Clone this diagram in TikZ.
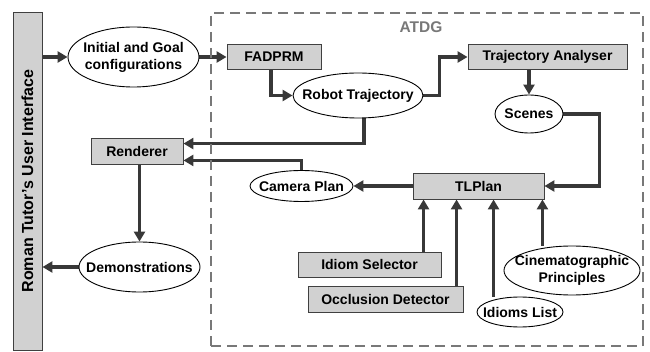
\documentclass[tikz,border=0pt]{standalone}
\usepackage{fontspec}
\setmainfont{Liberation Sans}
\usetikzlibrary{arrows.meta,shapes.geometric,backgrounds}
\definecolor{boxgray}{gray}{0.82}
\definecolor{arrgray}{gray}{0.22}
\definecolor{dashgray}{gray}{0.47}
\begin{document}
\begin{tikzpicture}[x=1pt,y=-1pt,
  box/.style={draw=black!75, line width=0.9pt, fill=boxgray, inner sep=0pt,
    font=\fontsize{14}{16}\selectfont\bfseries},
  ell/.style={draw=black, line width=0.9pt, fill=white, ellipse, inner sep=0pt},
  lbl/.style={font=\fontsize{14}{17}\selectfont\bfseries, align=center, inner sep=0pt},
  arr/.style={draw=arrgray, line width=3.5pt, -{Triangle[length=10pt,width=11pt]}}]
\useasboundingbox (0,0) rectangle (650,352);
% ATDG frame
\node[draw=dashgray, line width=2.3pt, dash pattern=on 10pt off 6pt, minimum width=432, minimum height=333, inner sep=0pt] (atdg) at (427,179.5) {};
\node[font=\fontsize{15.5}{17}\selectfont\bfseries, text=dashgray, inner sep=0pt] (atdglbl) at (421,27) {ATDG};
% user interface bar
\node[box, minimum width=29, minimum height=338] (ui) at (27.5,181) {};
\node[lbl, font=\fontsize{16}{18}\selectfont\bfseries, rotate=90] (uitext) at (ui) {Roman Tutor's User Interface};
% nodes
\node[ell, minimum width=131, minimum height=60, label={[lbl]center:Initial and Goal\\configurations}] (init) at (133.5,57) {};
\node[box, minimum width=94, minimum height=25] (fad) at (274,57) {FADPRM};
\node[ell, minimum width=130, minimum height=45, label={[lbl]center:Robot Trajectory}] (robot) at (358,95.5) {};
\node[box, minimum width=159, minimum height=25] (ta) at (547.5,57) {Trajectory Analyser};
\node[ell, minimum width=68, minimum height=38, label={[lbl]center:Scenes}] (scenes) at (529,114) {};
\node[box, minimum width=92, minimum height=26] (renderer) at (137,151) {Renderer};
\node[ell, minimum width=103, minimum height=31, label={[lbl]center:Camera Plan}] (camera) at (301.5,186) {};
\node[box, minimum width=131, minimum height=26] (tl) at (478.5,186) {TLPlan};
\node[ell, minimum width=121, minimum height=50, label={[lbl]center:Demonstrations}] (demo) at (139.5,267) {};
\node[box, minimum width=143, minimum height=25] (idsel) at (369.5,264.5) {Idiom Selector};
\node[box, minimum width=155, minimum height=26] (occ) at (385.5,299) {Occlusion Detector};
\node[ell, minimum width=86, minimum height=30, label={[lbl]center:Idioms List}] (idl) at (520,312) {};
\node[ell, minimum width=136, minimum height=49, label={[lbl]center:Cinematographic\\Principles}] (cine) at (572,270.5) {};
% connectors
\begin{scope}[on background layer]
\draw[arr] (init.west -| ui.east) -- (init.west);
\draw[arr] (init.east) -- (fad.west);
\draw[arr] ([xshift=-3pt]fad.south) |- (robot.west);
\draw[arr] (robot.east) -- ++(16,0) |- (ta.west);
\draw[arr] (scenes.north |- ta.south) -- (scenes.north);
\draw[arr] (scenes.east) -- ++(36,0) |- (tl.east);
\draw[arr] ([xshift=6pt]robot.south) |- ([yshift=-6pt]renderer.north east);
\draw[arr] (camera.north) |- ([yshift=4pt]renderer.south east);
\draw[arr] (tl.west) -- (camera.east);
\draw[arr] (demo.north |- renderer.south) -- (demo.north);
\draw[arr] (demo.west) -- (demo.west -| ui.east);
\draw[arr] ([xshift=11pt]tl.south west |- idsel.north) -- ([xshift=11pt]tl.south west);
\draw[arr] ([xshift=44pt]tl.south west |- occ.north) -- ([xshift=44pt]tl.south west);
\draw[arr] ([xshift=81pt]tl.south west |- idl.north) -- ([xshift=81pt]tl.south west);
\draw[arr] ([xshift=-2pt]tl.south east |- cine.north) -- ([xshift=-2pt]tl.south east);
\end{scope}
\end{tikzpicture}
\end{document}
